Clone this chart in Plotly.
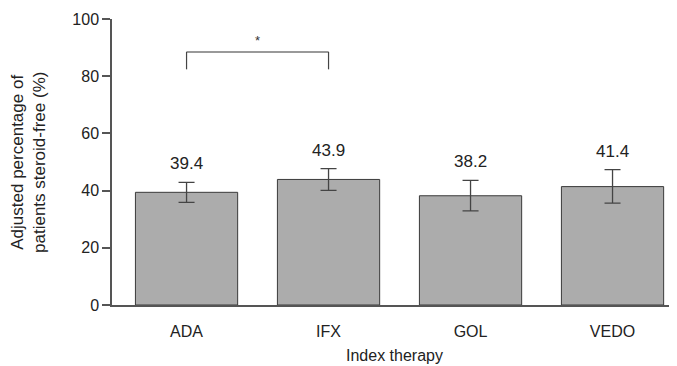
import plotly.graph_objects as go

categories = ["ADA", "IFX", "GOL", "VEDO"]
values = [39.4, 43.9, 38.2, 41.4]
err_plus = [3.5, 3.8, 5.4, 5.9]
err_minus = [3.5, 3.8, 5.3, 5.8]
y_ticks = [0, 20, 40, 60, 80, 100]

FONT = "Liberation Sans, Arial, Helvetica, sans-serif"

fig = go.Figure()
fig.add_trace(go.Bar(
    x=categories, y=values,
    marker=dict(color="#acacac", line=dict(color="#3a3a3a", width=1)),
    width=0.72,
    error_y=dict(type="data", array=err_plus, arrayminus=err_minus,
                 color="#444444", thickness=1.3, width=8),
    hoverinfo="skip",
))

for c, v, e in zip(categories, values, err_plus):
    fig.add_annotation(x=c, y=v + e, text=f"{v:.1f}", showarrow=False,
                       yanchor="bottom", yshift=7,
                       font=dict(size=17, color="#222222", family=FONT))

# significance bracket between ADA and IFX
fig.add_shape(type="line", x0=0, x1=1, y0=88.5, y1=88.5,
              line=dict(color="#777777", width=1.5), xref="x", yref="y")
fig.add_shape(type="line", x0=0, x1=0, y0=82.4, y1=88.5,
              line=dict(color="#444444", width=1.2), xref="x", yref="y")
fig.add_shape(type="line", x0=1, x1=1, y0=82.4, y1=88.5,
              line=dict(color="#444444", width=1.2), xref="x", yref="y")
fig.add_annotation(x=0.5, y=92.4, text="*", showarrow=False, xref="x", yref="y",
                   font=dict(size=13, color="#333333", family=FONT))

# y-axis title as annotation
fig.add_annotation(xref="paper", yref="paper", x=-0.1487, y=0.5,
                   text="Adjusted percentage of<br>patients steroid-free (%)",
                   textangle=-90, showarrow=False, xanchor="center", yanchor="middle",
                   font=dict(size=17, color="#222222", family=FONT))

# page body has an 8px margin, so the figure is sized to fit the 677x366 window
fig.update_layout(
    width=669, height=358,
    margin=dict(l=104, r=0, t=11, b=61),
    paper_bgcolor="white", plot_bgcolor="white",
    showlegend=False,
    font=dict(family=FONT, size=16, color="#222222"),
    xaxis=dict(
        type="category", range=[-0.525, 3.454],
        showline=True, linecolor="#555555", linewidth=2,
        ticks="", showgrid=False, zeroline=False,
        tickfont=dict(size=16, color="#222222"),
        ticklabelstandoff=11,
        title=dict(text="Index therapy", standoff=11,
                   font=dict(size=16, color="#222222")),
    ),
    yaxis=dict(
        range=[0, 100], tickvals=y_ticks,
        showline=True, linecolor="#555555", linewidth=1.5,
        ticks="outside", ticklen=8, tickcolor="#555555", tickwidth=1.5,
        showgrid=False, zeroline=False,
        tickfont=dict(size=16, color="#222222"),
    ),
)

fig.write_html("out.html")
